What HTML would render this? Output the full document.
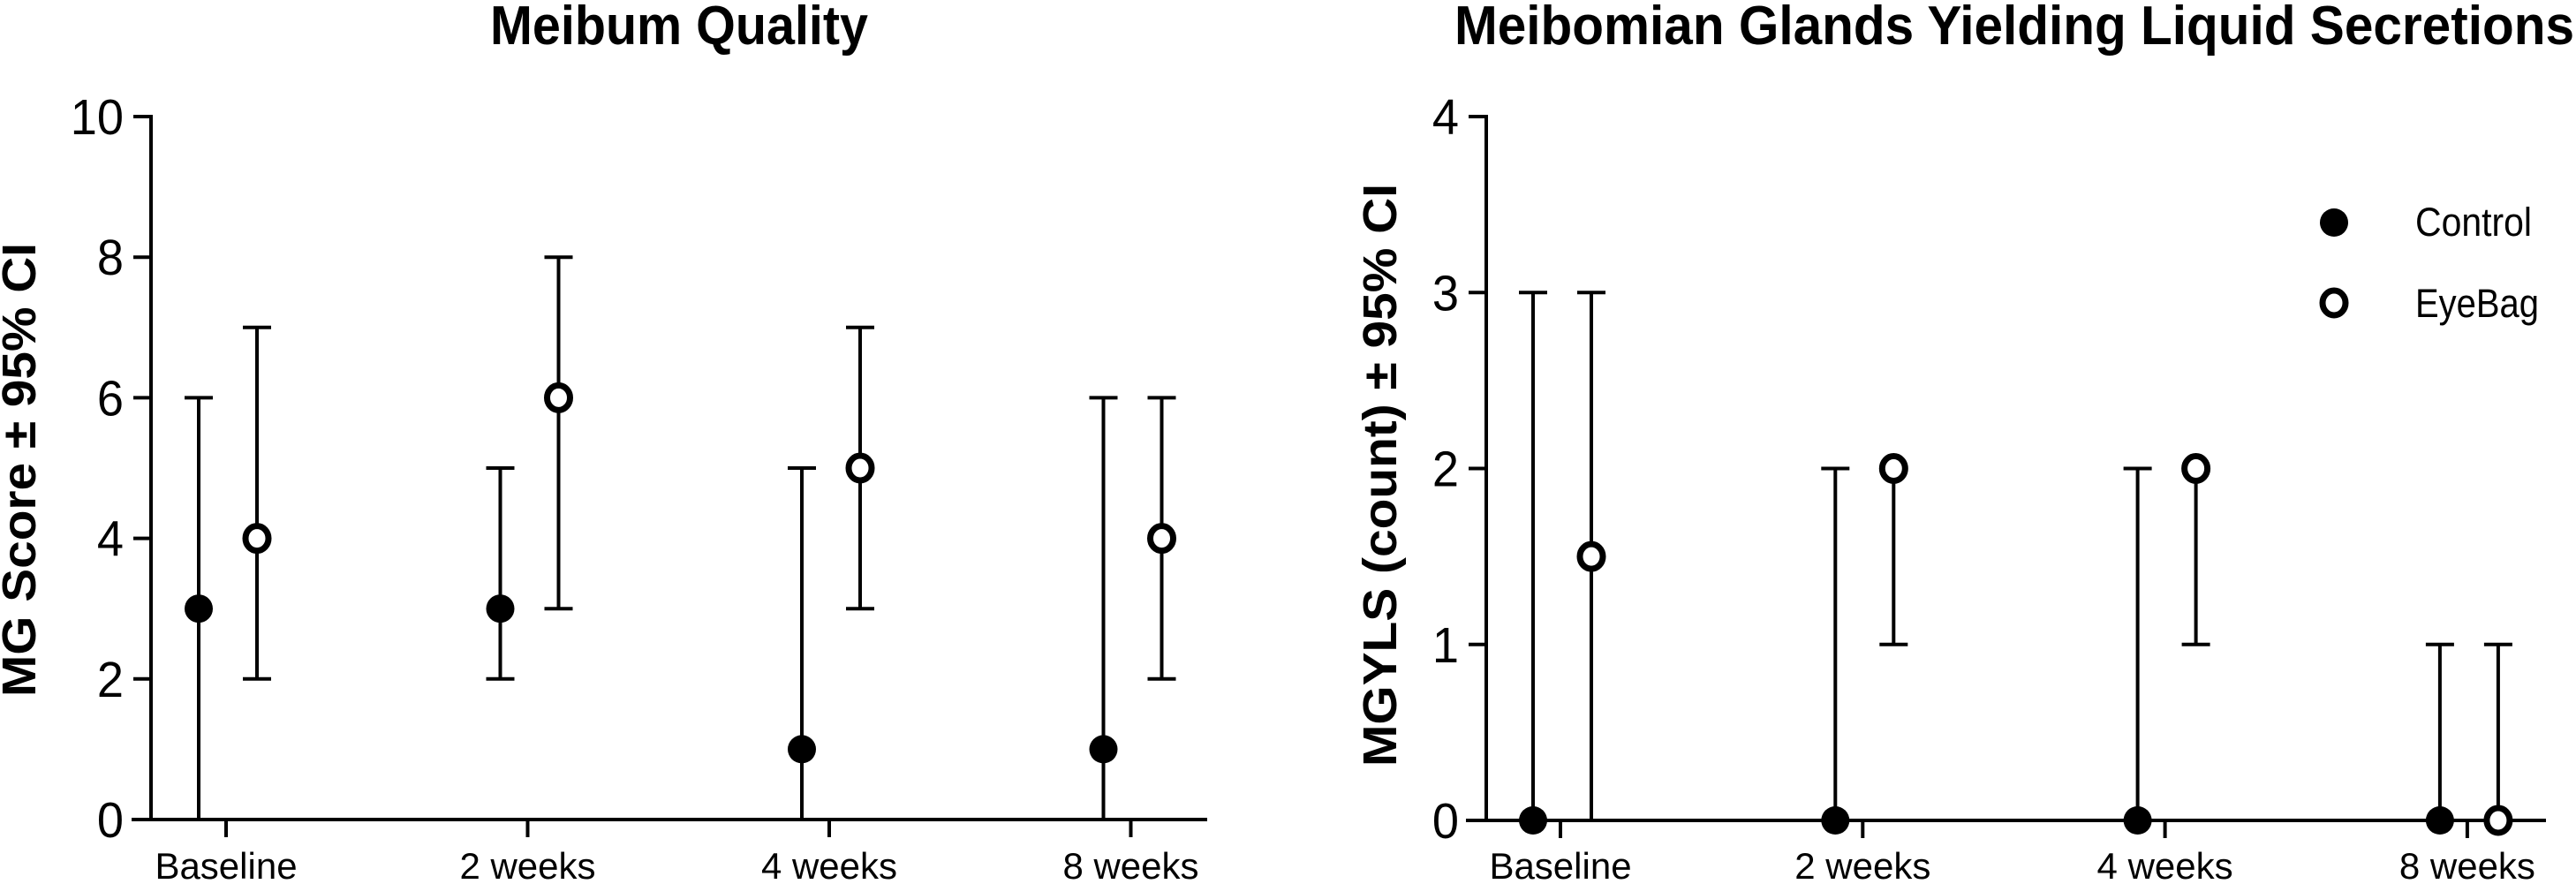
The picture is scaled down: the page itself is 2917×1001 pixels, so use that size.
<!DOCTYPE html>
<html><head><meta charset="utf-8">
<style>
html,body{margin:0;padding:0;background:#fff;}
svg{display:block;}
text{font-family:"Liberation Sans",Arial,sans-serif;fill:#000;}
</style></head>
<body>
<svg id="chart" width="2917" height="1001" viewBox="0 0 2917 1001" xmlns="http://www.w3.org/2000/svg">
<rect width="2917" height="1001" fill="#fff"/>
</svg>
<script>
const categories = ["Baseline","2 weeks","4 weeks","8 weeks"];
const leftControl = [3,3,1,1];
const leftControlLo = [0,2,0,0];
const leftControlHi = [6,5,5,6];
const leftEye = [4,6,5,4];
const leftEyeLo = [2,3,3,2];
const leftEyeHi = [7,8,7,6];
const leftTicks = [0,2,4,6,8,10];
const rightControl = [0,0,0,0];
const rightControlLo = [0,0,0,0];
const rightControlHi = [3,2,2,1];
const rightEye = [1.5,2,2,0];
const rightEyeLo = [0,1,1,0];
const rightEyeHi = [3,2,2,1];
const rightTicks = [0,1,2,3,4];

const NS="http://www.w3.org/2000/svg";
const svg=document.getElementById('chart');
function el(tag,attrs,parent){const e=document.createElementNS(NS,tag);for(const k in attrs)e.setAttribute(k,attrs[k]);(parent||svg).appendChild(e);return e;}

function panel(cfg){
  const g=el('g',{});
  
  
  const y=v=>cfg.y0+(cfg.y1-cfg.y0)*(v-cfg.vmin)/(cfg.vmax-cfg.vmin);
  const x=i=>cfg.xt[0]+(cfg.xt[1]-cfg.xt[0])*i;
  const t=el('text',{x:cfg.titleX,y:50,'text-anchor':'middle','font-size':62,'font-weight':'bold',textLength:cfg.titleW,lengthAdjust:'spacingAndGlyphs'},g);
  t.textContent=cfg.title;
  
  
  const yt=el('text',{x:0,y:0,'text-anchor':'middle','font-size':54,'font-weight':'bold',textLength:cfg.ytLen,lengthAdjust:'spacingAndGlyphs',transform:`translate(${cfg.ytX},${cfg.ytY}) rotate(-90)`},g);
  yt.textContent=cfg.ytitle;
  
  
  const ya=el('line',{x1:cfg.ax,x2:cfg.ax,y1:y(cfg.vmax)-2,y2:y(cfg.vmin)+2,stroke:'#000','stroke-width':4},g);
  
  
  const xa=el('line',{x1:cfg.xaL,x2:cfg.xaR,y1:y(cfg.vmin),y2:y(cfg.vmin),stroke:'#000','stroke-width':4},g);
  
  
  cfg.ticks.forEach(v=>{
    el('line',{x1:cfg.ax-20,x2:cfg.ax,y1:y(v),y2:y(v),stroke:'#000','stroke-width':4},g);
    const tl=el('text',{x:0,y:0,'text-anchor':'end','font-size':57,transform:`translate(${cfg.ax-31},${y(v)+20}) scale(0.95,1)`},g);
    tl.textContent=String(v);
    
    
  });
  categories.forEach((c,i)=>{
    el('line',{x1:x(i),x2:x(i),y1:y(cfg.vmin),y2:y(cfg.vmin)+20,stroke:'#000','stroke-width':4},g);
    const xl=el('text',{x:x(i),y:995,'text-anchor':'middle','font-size':42},g);
    xl.textContent=c;
    
    
  });
  function series(vals,lo,hi,off,open,nm){
    vals.forEach((v,i)=>{
      const cx=x(i)+off;
      const eb=el('path',{d:`M${cx},${y(lo[i])}V${y(hi[i])}M${cx-16},${y(hi[i])}H${cx+16}M${cx-16},${y(lo[i])}H${cx+16}`,stroke:'#000','stroke-width':4,fill:'none'},g);
      
      
      const m=el('ellipse',{cx:cx,cy:y(v),rx:open?13:16,ry:open?14:16,fill:open?'#fff':'#000',stroke:'#000','stroke-width':open?7:0},g);
      
      
    });
  }
  series(cfg.c,cfg.cl,cfg.ch,-31,false,'control');
  series(cfg.e,cfg.el,cfg.eh,35,true,'eyebag');
}

panel({name:'meibum-quality-chart',title:'Meibum Quality',titleX:769,titleW:428,
  ytitle:'MG Score ± 95% CI',ytX:40,ytY:532,ytLen:514,
  ax:171,xaL:149,xaR:1367,xt:[256,597.5],y0:928,y1:132,vmin:0,vmax:10,ticks:leftTicks,
  c:leftControl,cl:leftControlLo,ch:leftControlHi,e:leftEye,el:leftEyeLo,eh:leftEyeHi});
panel({name:'mgyls-chart',title:'Meibomian Glands Yielding Liquid Secretions',titleX:2281,titleW:1268,
  ytitle:'MGYLS (count) ± 95% CI',ytX:1581,ytY:538,ytLen:660,
  ax:1683,xaL:1660,xaR:2883,xt:[1767,2109.3],y0:929,y1:132,vmin:0,vmax:4,ticks:rightTicks,
  c:rightControl,cl:rightControlLo,ch:rightControlHi,e:rightEye,el:rightEyeLo,eh:rightEyeHi});

const lg=el('g',{});


const l1=el('circle',{cx:2643,cy:252,r:16,fill:'#000'},lg);


const t1=el('text',{x:2735,y:267,'font-size':45,textLength:132,lengthAdjust:'spacingAndGlyphs'},lg);
t1.textContent='Control';


const l2=el('ellipse',{cx:2643,cy:343,rx:13,ry:14,fill:'#fff',stroke:'#000','stroke-width':7},lg);


const t2=el('text',{x:2735,y:359,'font-size':45,textLength:140,lengthAdjust:'spacingAndGlyphs'},lg);
t2.textContent='EyeBag';


</script>
</body></html>
